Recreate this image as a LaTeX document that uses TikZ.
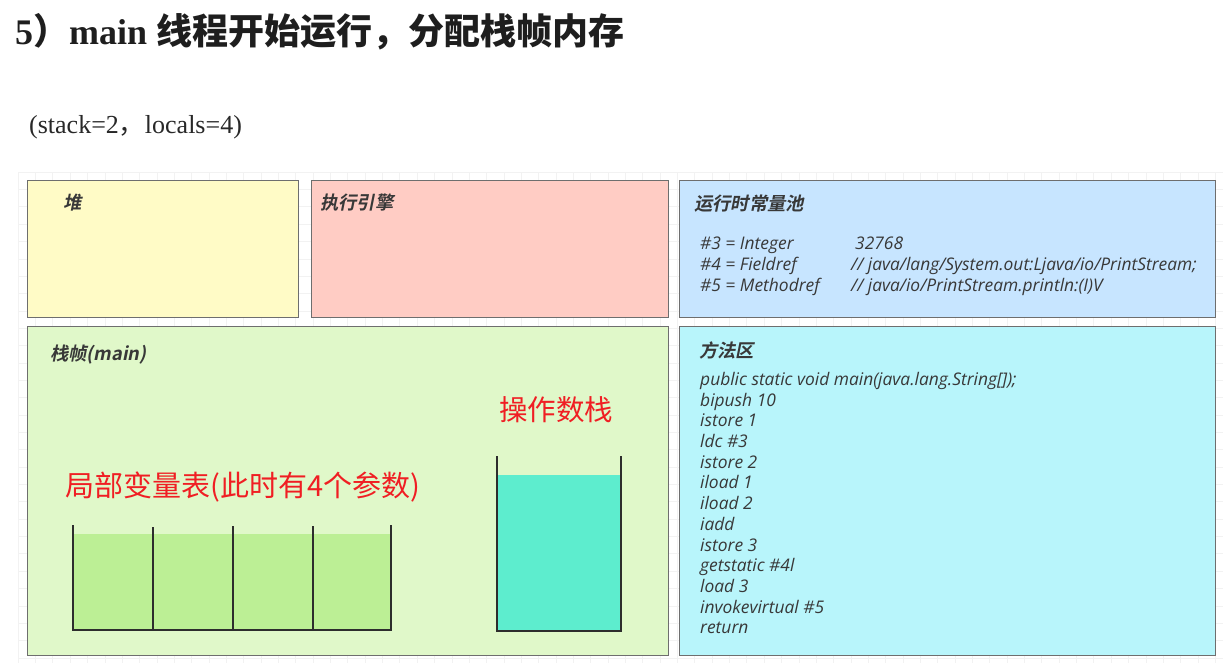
\documentclass[tikz,border=0pt]{standalone}
\usepackage{fontspec}
\setmainfont{Liberation Serif}
\newfontfamily\cjk{Noto Sans CJK SC}
\newfontfamily\cjkbold{Noto Sans CJK SC Bold}
\newfontfamily\cjkbi{Noto Sans CJK SC Bold}[FakeSlant=0.2]
\newfontfamily\ui{Open Sans}
\definecolor{heapc}{HTML}{FFFBC6}
\definecolor{execc}{HTML}{FFCCC4}
\definecolor{poolc}{HTML}{C7E5FF}
\definecolor{framec}{HTML}{E0F8C9}
\definecolor{methc}{HTML}{B8F5FB}
\definecolor{locc}{HTML}{BCEF95}
\definecolor{stkc}{HTML}{5DEDCE}
\definecolor{edgec}{HTML}{6E6E6E}
\definecolor{txtc}{HTML}{383838}
\definecolor{redc}{HTML}{F01E23}
\tikzset{
  box/.style={draw=edgec, line width=1.2pt, anchor=north west, inner sep=0pt},
  head/.style={anchor=west, inner sep=0pt, text=txtc, font=\cjkbi\fontsize{18.3}{18.3}\selectfont},
  code/.style={anchor=base west, inner sep=0pt, text=txtc, font=\ui\itshape\fontsize{17.4}{17.4}\selectfont},
  redlbl/.style={anchor=west, inner sep=0pt, text=redc},
  cup/.style={draw={rgb,255:red,45;green,45;blue,45}, line width=1.8pt},
  gridminor/.style={draw=black!5, line width=0.5pt},
}
\begin{document}
\begin{tikzpicture}[x=1pt, y=-1pt]
\useasboundingbox (0,0) rectangle (1231,670);
% faint background grid
\foreach \i in {0,...,69} {\draw[gridminor] (18+17.35*\i,172) -- (18+17.35*\i,663);}
\foreach \j in {0,...,28} {\draw[gridminor] (18,172+17.35*\j) -- (1223,172+17.35*\j);}

% title
\node[anchor=west, inner sep=0pt, text={rgb,255:red,30;green,30;blue,30}] (title) at (15,32)
  {\fontsize{36}{36}\selectfont\bfseries 5{\cjkbold ）}main {\cjkbold 线程开始运行，分配栈帧内存}};
\node[anchor=west, inner sep=0pt, text={rgb,255:red,40;green,40;blue,40}] (sub) at (29,127)
  {\fontsize{26}{26}\selectfont (stack=2{\cjk ，}locals=4)};

% boxes
\node[box, fill=heapc, minimum width=271pt, minimum height=137pt] (heap) at (27,180) {};
\node[box, fill=execc, minimum width=357pt, minimum height=137pt] (exec) at (311,180) {};
\node[box, fill=poolc, minimum width=536pt, minimum height=137pt] (pool) at (679,180) {};
\node[box, fill=framec, minimum width=641pt, minimum height=329pt] (frame) at (27,326) {};
\node[box, fill=methc, minimum width=536pt, minimum height=329pt] (meth) at (679,326) {};

% headings
\node[head] (heapl) at (63,203) {堆};
\node[head] (execl) at (320,203) {执行引擎};
\node[head] (pooll) at (694,204) {运行时常量池};
\node[head] (framel) at (50,355) {栈帧(main)};
\node[head] (methl) at (699,350) {方法区};

% constant pool
\node[code] (p3) at (700,249) {\#3 = Integer};
\node[code] (p3v) at (855,249) {32768};
\node[code] (p4) at (700,270) {\#4 = Fieldref};
\node[code] (p4v) at (851,270) {// java/lang/System.out:Ljava/io/PrintStream;};
\node[code] (p5) at (700,291) {\#5 = Methodref};
\node[code] (p5v) at (851,291) {// java/io/PrintStream.println:(I)V};

% method area
\foreach \t [count=\k from 0] in {public static void main(java.lang.String[]);, bipush 10, istore 1, ldc \#3, istore 2, iload 1, iload 2, iadd, istore 3, getstatic \#4l, load 3, invokevirtual \#5, return}
  {\node[code] (m\k) at (700,385.3+20.72*\k) {\t};}

% local variable table
\node[redlbl, font=\cjk\fontsize{29}{29}\selectfont] (locl) at (65,487) {局部变量表(此时有4个参数)};
\fill[locc] (73,534) rectangle (391,630);
\coordinate (l0) at (73,630);
\coordinate (l4) at (391,630);
\draw[cup] (73,525) -- (l0) -- (l4) -- (391,525);
\draw[cup] (153,527) -- (153,630);
\draw[cup] (233,526) -- (233,630);
\draw[cup] (313,526) -- (313,630);

% operand stack
\node[redlbl, font=\cjk\fontsize{28.5}{28.5}\selectfont] (stkl) at (499,410) {操作数栈};
\fill[stkc] (497,475) rectangle (621,631);
\coordinate (s0) at (497,631);
\coordinate (s1) at (621,631);
\draw[cup] (497,456) -- (s0) -- (s1) -- (621,456);
\end{tikzpicture}
\end{document}
